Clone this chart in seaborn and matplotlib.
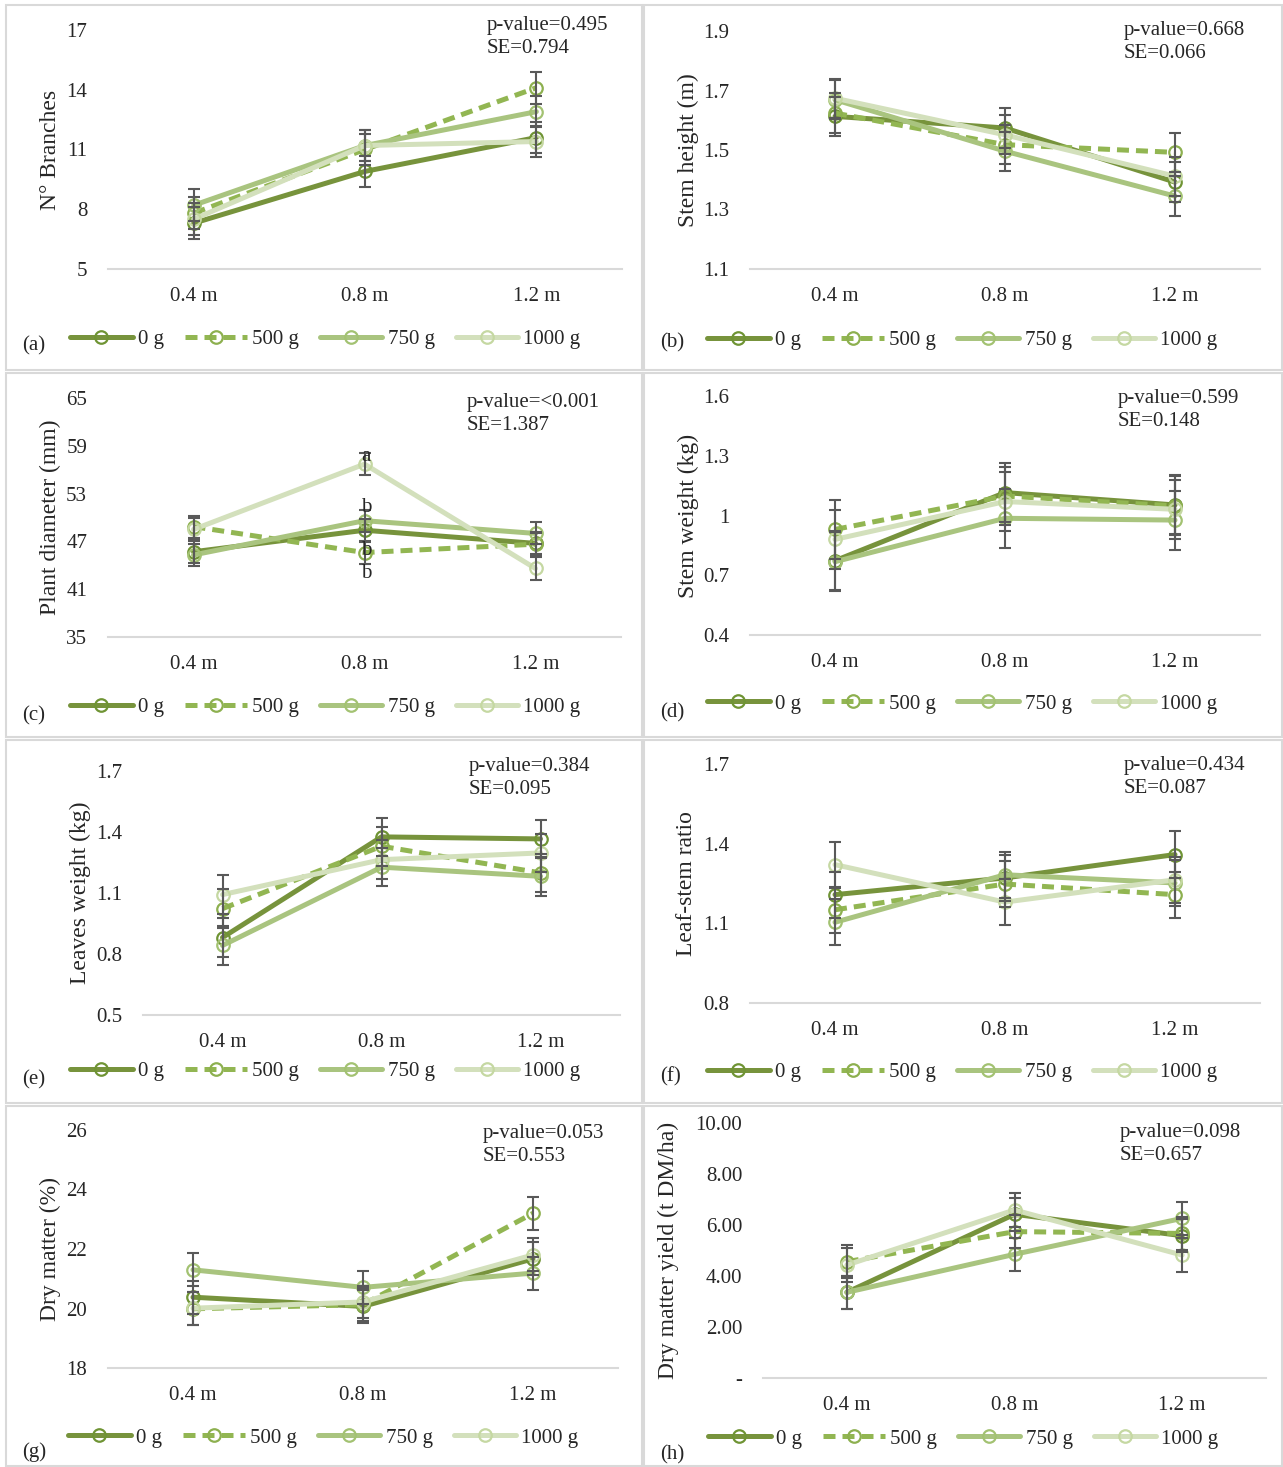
import matplotlib.pyplot as plt
import seaborn as sns
import pandas as pd
from matplotlib.lines import Line2D
from matplotlib.patches import Rectangle

sns.set_style("white")
plt.rcParams["font.family"] = ["Liberation Serif", "DejaVu Serif"]
plt.rcParams["font.size"] = 15

W, H = 1283, 1467

DOSES = ["0 g", "500 g", "750 g", "1000 g"]
SPACINGS = ["0.4 m", "0.8 m", "1.2 m"]
LINE_COLORS = ["#77933C", "#92B652", "#A9C47F", "#D3E0BC"]
EDGE_COLORS = ["#6F9434", "#8DB04F", "#A3C272", "#C5D8A2"]
LINESTYLES = ["-", (0, (2.4, 1.4)), "-", "-"]

# values per dose (rows: 0 g, 500 g, 750 g, 1000 g), columns: 0.4 / 0.8 / 1.2 m
branches = [[7.3, 9.9, 11.6], [7.8, 11.0, 14.1], [8.2, 11.2, 12.9], [7.5, 11.2, 11.4]]
stem_height = [[1.613, 1.574, 1.392], [1.624, 1.518, 1.492], [1.669, 1.496, 1.345], [1.674, 1.551, 1.412]]
diameter = [[45.7, 48.4, 46.75], [48.85, 45.6, 46.65], [45.3, 49.6, 48.0], [48.5, 56.7, 43.6]]
stem_weight = [[0.773, 1.115, 1.053], [0.93, 1.098, 1.048], [0.768, 0.986, 0.977], [0.88, 1.07, 1.031]]
leaves_weight = [[0.881, 1.376, 1.366], [1.023, 1.33, 1.199], [0.842, 1.227, 1.182], [1.092, 1.264, 1.297]]
leaf_stem = [[1.208, 1.271, 1.359], [1.151, 1.248, 1.208], [1.104, 1.283, 1.252], [1.321, 1.18, 1.264]]
dry_matter = [[20.38, 20.07, 21.67], [19.99, 20.13, 23.2], [21.3, 20.71, 21.19], [20.01, 20.22, 21.8]]
dm_yield = [[3.36, 6.42, 5.58], [4.56, 5.74, 5.67], [3.36, 4.85, 6.26], [4.43, 6.59, 4.82]]

se_values = [0.794, 0.066, 1.387, 0.148, 0.095, 0.087, 0.553, 0.657]
p_values = ["0.495", "0.668", "<0.001", "0.599", "0.384", "0.434", "0.053", "0.098"]

# mean separation letters on panel (c) at 0.8 m
letters = ["a", "b", "b", "b"]
letter_y = [57.7, 51.2, 45.8, 43.0]

panels = [
    dict(tag="(a)", ylabel="N° Branches", data=branches,
         yticks=[5, 8, 11, 14, 17], yticklabels=["5", "8", "11", "14", "17"],
         box=(108, 622, 30, 269), ylab_x=50, ptxt=(487, 16), leg=(70, 339), tagpos=(22, 346)),
    dict(tag="(b)", ylabel="Stem height (m)", data=stem_height,
         yticks=[1.1, 1.3, 1.5, 1.7, 1.9], yticklabels=["1.1", "1.3", "1.5", "1.7", "1.9"],
         box=(750, 1260, 31, 269), ylab_x=688, ptxt=(1124, 21), leg=(707, 340), tagpos=(660, 343)),
    dict(tag="(c)", ylabel="Plant diameter (mm)", data=diameter,
         yticks=[35, 41, 47, 53, 59, 65], yticklabels=["35", "41", "47", "53", "59", "65"],
         box=(108, 621, 398, 637), ylab_x=50, ptxt=(467, 393), leg=(70, 707), tagpos=(22, 716)),
    dict(tag="(d)", ylabel="Stem weight (kg)", data=stem_weight,
         yticks=[0.4, 0.7, 1.0, 1.3, 1.6], yticklabels=["0.4", "0.7", "1", "1.3", "1.6"],
         box=(750, 1260, 396, 635), ylab_x=688, ptxt=(1118, 389), leg=(707, 704), tagpos=(660, 713)),
    dict(tag="(e)", ylabel="Leaves weight (kg)", data=leaves_weight,
         yticks=[0.5, 0.8, 1.1, 1.4, 1.7], yticklabels=["0.5", "0.8", "1.1", "1.4", "1.7"],
         box=(143, 620, 771, 1015), ylab_x=80, ptxt=(469, 757), leg=(70, 1071), tagpos=(22, 1080)),
    dict(tag="(f)", ylabel="Leaf-stem ratio", data=leaf_stem,
         yticks=[0.8, 1.1, 1.4, 1.7], yticklabels=["0.8", "1.1", "1.4", "1.7"],
         box=(750, 1260, 764, 1003), ylab_x=687, ptxt=(1124, 756), leg=(707, 1072), tagpos=(660, 1077)),
    dict(tag="(g)", ylabel="Dry matter (%)", data=dry_matter,
         yticks=[18, 20, 22, 24, 26], yticklabels=["18", "20", "22", "24", "26"],
         box=(108, 618, 1130, 1368), ylab_x=50, ptxt=(483, 1124), leg=(68, 1438), tagpos=(22, 1452)),
    dict(tag="(h)", ylabel="Dry matter yield (t DM/ha)", data=dm_yield,
         yticks=[0, 2, 4, 6, 8, 10], yticklabels=["-", "2.00", "4.00", "6.00", "8.00", "10.00"],
         box=(763, 1266, 1123, 1378), ylab_x=668, ptxt=(1120, 1123), leg=(708, 1439), tagpos=(660, 1455)),
]

fig = plt.figure(figsize=(W / 100, H / 100), dpi=100)

# panel frames
for x0, x1 in [(6, 642), (644, 1282)]:
    for y0, y1 in [(5, 370), (373, 737), (740, 1103), (1106, 1466)]:
        fig.patches.append(Rectangle((x0 / W, 1 - y1 / H), (x1 - x0) / W, (y1 - y0) / H,
                                     transform=fig.transFigure, fill=False,
                                     edgecolor="#D9D9D9", lw=1.5))

positions = list(range(len(SPACINGS)))

for i, p in enumerate(panels):
    L, R, T, B = p["box"]
    ax = fig.add_axes([L / W, 1 - B / H, (R - L) / W, (B - T) / H])

    for j, dose in enumerate(DOSES):
        vals = p["data"][j]
        df = pd.DataFrame({"pos": positions, "value": vals})
        sns.lineplot(data=df, x="pos", y="value", ax=ax, color=LINE_COLORS[j], lw=3.6,
                     linestyle=LINESTYLES[j], marker="o", ms=9, mfc="none",
                     mec=EDGE_COLORS[j], mew=1.6, errorbar=None, legend=False, zorder=3 + j)
        ax.errorbar(positions, vals, yerr=se_values[i], fmt="none", ecolor="#595959",
                    elinewidth=1.5, capsize=4, capthick=1.5, zorder=8)

    ax.set_xlim(-0.5, 2.5)
    ax.set_ylim(p["yticks"][0], p["yticks"][-1])
    ax.set_xticks(positions)
    ax.set_xticklabels(SPACINGS)
    ax.set_yticks(p["yticks"])
    ax.set_yticklabels(p["yticklabels"])
    ax.tick_params(axis="both", length=0, labelsize=15)
    ax.tick_params(axis="x", pad=13)
    ax.tick_params(axis="y", pad=15)
    for side in ["top", "right", "left"]:
        ax.spines[side].set_visible(False)
    ax.spines["bottom"].set_color("#D9D9D9")
    ax.spines["bottom"].set_linewidth(1.5)
    ax.set_xlabel("")
    ax.set_ylabel(p["ylabel"], fontsize=17)
    ax.yaxis.set_label_coords((p["ylab_x"] - L) / (R - L), 0.5)
    ax.yaxis.label.set_va("center")

    if i == 2:
        for lt, ly in zip(letters, letter_y):
            ax.text(1.01, ly, lt, ha="center", va="center", fontsize=15, zorder=10)

    px, py = p["ptxt"]
    fig.text(px / W, 1 - py / H, f"p-value={p_values[i]}\nSE={se_values[i]:.3f}",
             ha="left", va="top", fontsize=15, linespacing=1.3)

    tx, ty = p["tagpos"]
    fig.text(tx / W, 1 - ty / H, p["tag"], ha="left", va="center", fontsize=15)

    handles = [Line2D([0], [0], color=LINE_COLORS[j], lw=3.6, linestyle=LINESTYLES[j],
                      marker="o", ms=9, mfc="none", mec=EDGE_COLORS[j], mew=1.6)
               for j in range(len(DOSES))]
    lx, ly = p["leg"]
    ax.legend(handles, DOSES, loc="center left", bbox_to_anchor=(lx / W, 1 - ly / H),
              bbox_transform=fig.transFigure, ncol=4, frameon=False, fontsize=15,
              handlelength=3.0, handletextpad=0.25, columnspacing=1.0, borderpad=0,
              borderaxespad=0, numpoints=1)

fig.savefig("out.png", dpi=100, facecolor="w")
